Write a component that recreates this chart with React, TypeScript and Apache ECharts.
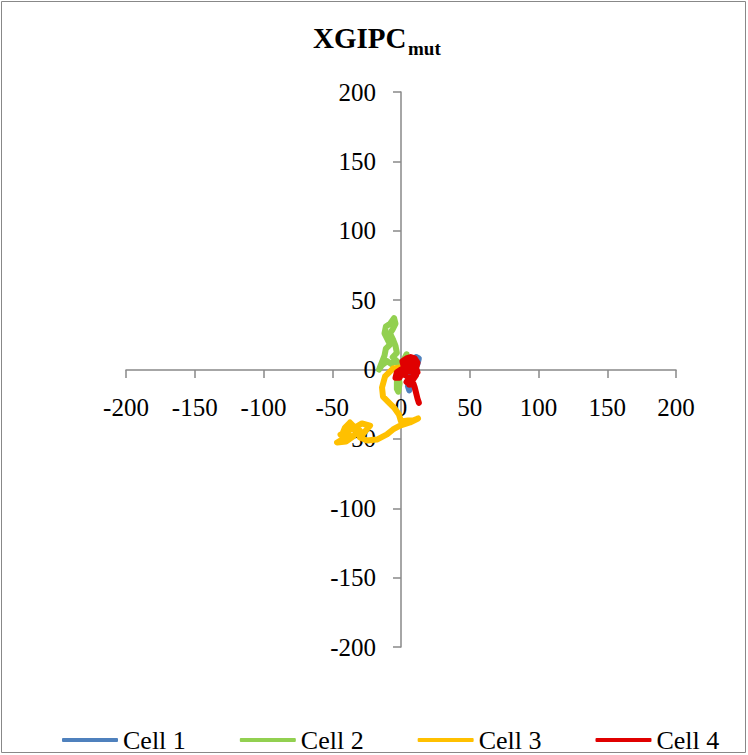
import React, { useEffect, useRef } from "react";
import * as echarts from "echarts";

const seriesNames = ["Cell 1", "Cell 2", "Cell 3", "Cell 4"];
const seriesColors = ["#4F81BD", "#92D050", "#FFC000", "#E00000"];

const axisTicks = [-200, -150, -100, -50, 0, 50, 100, 150, 200];

const cell1X = [0, 4, 8, 11, 13, 12, 10, 8, 6, 5, 6, 7, 5, 3];
const cell1Y = [0, 3, 6, 9, 8, 4, 0, -4, -8, -12, -15, -12, -6, -2];

const cell2X = [0, -2, -3, -3, -2, -1, -2, 1, 3, 4, 2, -1, -4, -7, -10, -14, -16, -14, -12, -11, -8, -10, -12, -11, -8, -5, -4, -6, -8, -6, -4, -3, -6];
const cell2Y = [0, -4, -9, -14, -16, -10, -5, 0, 5, 11, 7, 4, 7, 4, 6, 3, 0, 5, 10, 15, 18, 22, 26, 31, 33, 37, 33, 29, 26, 22, 17, 12, 9];

const cell3X = [-0.7, -5.8, -11.6, -13.8, -13.1, -9.5, -5.1, -1.5, 0, 5.1, 8.7, 12.4, 6.5, -0.7, -5.8, -10.2, -17.5, -24.7, -29.8, -22.5, -28.4, -33.5, -37.1, -40.7, -42.2, -37.1, -42.9, -46.5, -40, -34.9, -30, -36, -44];
const cell3Y = [1.4, 0.7, -5, -13, -19.5, -23.1, -27.4, -32.4, -37.5, -36.8, -36.8, -35.3, -38.2, -40.4, -43.2, -46.8, -50.5, -51.2, -49, -40.4, -38.9, -41.8, -38.2, -41.8, -45.4, -47.6, -50.5, -52.6, -51.9, -48.3, -44, -43, -47];

const cell4X = [0, -3, -4, -1, 0, 3, 2, 1, 4, 7, 10, 12, 11, 12, 9, 6, 4, 7, 9, 8, 5, 3, 6, 10, 11, 9, 6, 4, 7, 6, 9, 10, 11, 12, 13];
const cell4Y = [0, -2, -6, -6, -3, -4, 2, 6, 8, 9, 8, 5, 1, -2, -3, 0, 4, 5, 2, -2, -1, 1, 6, 3, -4, -7, -6, -9, -8, -11, -10, -13, -17, -21, -24];

const cellXs = [cell1X, cell2X, cell3X, cell4X];
const cellYs = [cell1Y, cell2Y, cell3Y, cell4Y];

const FONT = "'Liberation Serif', 'Times New Roman', serif";

export default function App() {
  const ref = useRef<HTMLDivElement>(null);

  useEffect(() => {
    if (!ref.current) return;
    const chart = echarts.init(ref.current, undefined, { renderer: "svg" });

    const series = seriesNames.map((name, i) => ({
      name,
      type: "line",
      showSymbol: false,
      symbol: "none",
      data: cellXs[i].map((x, k) => [x, cellYs[i][k]]),
      lineStyle: { width: 6, color: seriesColors[i], cap: "round", join: "round" },
      itemStyle: { color: seriesColors[i] },
      z: 2 + i,
    }));

    const axisCommon = {
      type: "value",
      min: axisTicks[0],
      max: axisTicks[axisTicks.length - 1],
      interval: 50,
      axisLine: { show: true, onZero: false, lineStyle: { color: "#898989", width: 1.5 } },
      axisTick: { show: true, inside: false, length: 8, lineStyle: { color: "#898989", width: 1.5 } },
      splitLine: { show: false },
      axisLabel: { color: "#000", fontFamily: FONT, fontSize: 25, margin: 25 },
    };

    chart.setOption({
      animation: false,
      backgroundColor: "#fff",
      graphic: [
        {
          type: "rect",
          shape: { x: 1.5, y: 1.5, width: 744, height: 751 },
          style: { fill: "none", stroke: "#888", lineWidth: 1 },
          silent: true,
        },
        {
          type: "text",
          x: 313,
          y: 38,
          style: { text: "XGIPC", font: `bold 29px ${FONT}`, fill: "#000", textAlign: "left", textVerticalAlign: "middle" },
        },
        {
          type: "text",
          x: 408,
          y: 48.5,
          style: { text: "mut", font: `bold 19px ${FONT}`, fill: "#000", textAlign: "left", textVerticalAlign: "middle" },
        },
      ],
      grid: { left: 126, right: 72, top: 92, bottom: 108, containLabel: false },
      xAxis: { ...axisCommon, position: "bottom", offset: -277 },
      yAxis: { ...axisCommon, position: "left", offset: -275 },
      legend: {
        data: seriesNames,
        left: 62,
        top: 727,
        padding: 0,
        icon: "roundRect",
        itemWidth: 56,
        itemHeight: 4,
        itemGap: 54,
        textStyle: { color: "#000", fontFamily: FONT, fontSize: 26 },
      },
      series,
    });

    return () => chart.dispose();
  }, []);

  return (
    <div
      ref={ref}
      style={{ position: "fixed", left: 0, top: 0, width: 748, height: 755, background: "#fff" }}
    />
  );
}
